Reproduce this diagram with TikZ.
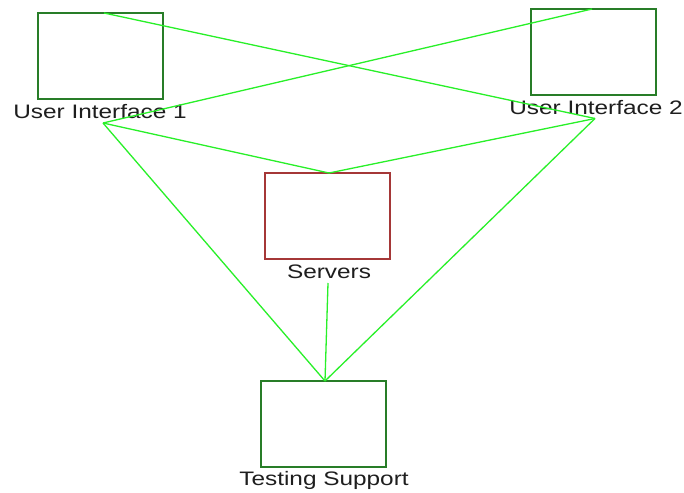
\documentclass[tikz,border=0pt]{standalone}
\usepackage{fontspec}
\newfontfamily\labfont[FakeStretch=1.25]{Liberation Sans}
\definecolor{boxgreen}{RGB}{40,125,40}
\definecolor{linegreen}{RGB}{40,240,40}
\definecolor{boxred}{RGB}{165,55,55}
\definecolor{labgray}{RGB}{30,30,30}
\begin{document}
\begin{tikzpicture}[x=1pt,y=-1pt,
  box/.style={draw=boxgreen, line width=1.8pt, minimum width=125pt, minimum height=86pt, anchor=north west, inner sep=0pt, outer sep=0pt},
  redbox/.style={box, draw=boxred},
  lab/.style={font=\labfont\fontsize{19.5}{20}\selectfont, text=labgray, anchor=base, inner sep=0pt},
  conn/.style={draw=linegreen, line width=1.3pt}]
\useasboundingbox (0,0) rectangle (684,492);
\fill[white] (0,0) rectangle (684,492);
% boxes
\node[box] (ui1) at (38,13) {};
\node[box] (ui2) at (531,9) {};
\node[redbox] (srv) at (265,173) {};
\node[box] (tst) at (261,381) {};
% labels
\node[lab] (ui1l) at (100,118.5) {User Interface 1};
\node[lab] (ui2l) at (596,114.3) {User Interface 2};
\node[lab] (srvl) at (329,278) {Servers};
\node[lab] (tstl) at (324,485) {Testing Support};
% connection points
\coordinate (ui1t) at (104,13);
\coordinate (ui2t) at (592,9);
\coordinate (ui1p) at (103,123);
\coordinate (ui2p) at (595,118.5);
\coordinate (srvt) at (329,173);
\coordinate (srvp) at (328,283);
\coordinate (tstt) at (325,381);
% connectors
\draw[conn] (ui1t) -- (ui2p);
\draw[conn] (ui2t) -- (ui1p);
\draw[conn] (ui1p) -- (srvt);
\draw[conn] (ui2p) -- (srvt);
\draw[conn] (ui1p) -- (tstt);
\draw[conn] (ui2p) -- (tstt);
\draw[conn] (srvp) -- (tstt);
\end{tikzpicture}
\end{document}
